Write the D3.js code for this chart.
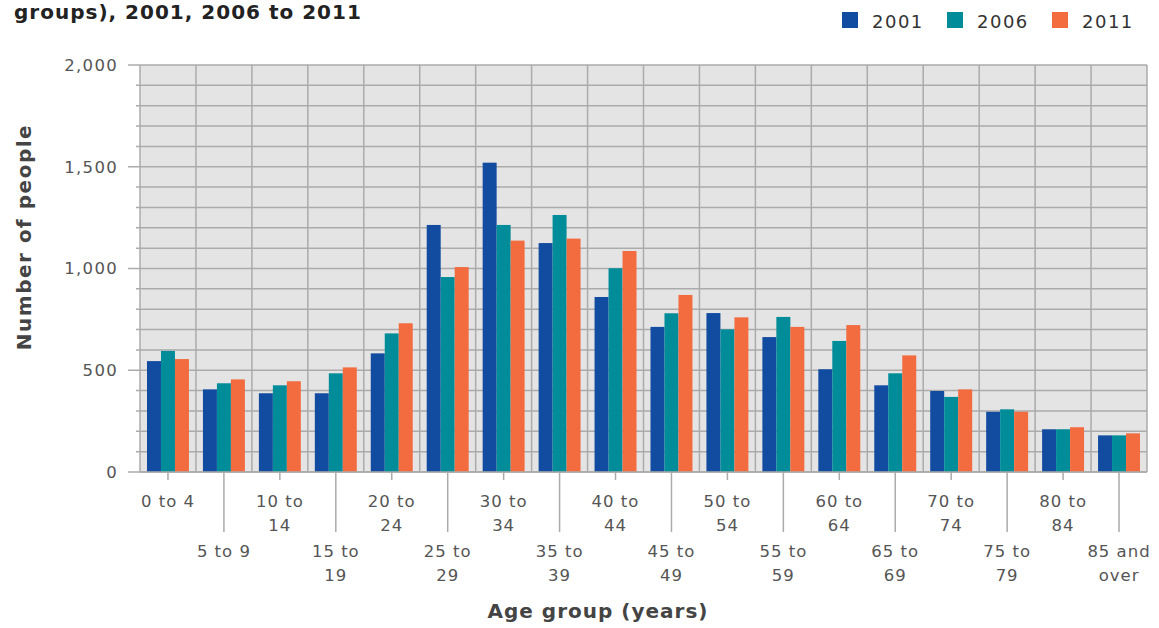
<!DOCTYPE html>
<html><head><meta charset="utf-8">
<script src="https://cdn.jsdelivr.net/npm/d3@7"></script>
<style>body{margin:0;background:#fff;}svg{display:block;font-family:"DejaVu Sans",Verdana,sans-serif;}</style>
</head><body>
<svg id="c" width="1159" height="628"></svg>
<script>
const categories = ["0 to 4","5 to 9","10 to 14","15 to 19","20 to 24","25 to 29","30 to 34","35 to 39","40 to 44","45 to 49","50 to 54","55 to 59","60 to 64","65 to 69","70 to 74","75 to 79","80 to 84","85 and over"];
const categoryLines = [["0 to 4"],["5 to 9"],["10 to","14"],["15 to","19"],["20 to","24"],["25 to","29"],["30 to","34"],["35 to","39"],["40 to","44"],["45 to","49"],["50 to","54"],["55 to","59"],["60 to","64"],["65 to","69"],["70 to","74"],["75 to","79"],["80 to","84"],["85 and","over"]];
const seriesNames = ["2001","2006","2011"];
const values2001 = [545,406,387,387,583,1214,1520,1125,860,713,781,663,505,426,398,296,210,180];
const values2006 = [595,436,426,485,681,958,1214,1263,1001,780,701,762,644,485,369,308,210,180];
const values2011 = [555,455,446,514,731,1007,1137,1147,1086,870,760,713,722,573,406,296,220,190];
const yTicks = [0,500,1000,1500,2000];
const colors = ["#124ca0","#008c99","#f26c40"];
const titleText = "groups), 2001, 2006 to 2011";
const xTitle = "Age group (years)";
const yTitle = "Number of people";

const series = [values2001, values2006, values2011];
const svg = d3.select("#c");
const L = 140, R = 1147, T = 65, B = 472;

const x = d3.scaleBand().domain(categories).range([L, R]).paddingInner(0).paddingOuter(0);
const xs = d3.scaleBand().domain(seriesNames).range([0, x.bandwidth()]).paddingInner(0).paddingOuter(0.5);
const y = d3.scaleLinear().domain([0, 2000]).range([B, T]);

// plot background
svg.append("rect").attr("x", L).attr("y", T).attr("width", R - L).attr("height", B - T).attr("fill", "#e4e4e4");

// horizontal gridlines every 100
const grid = d3.range(0, 2001, 100);
svg.append("g").selectAll("line").data(grid).join("line")
  .attr("x1", d => yTicks.includes(d) ? L - 12 : L - 4).attr("x2", R)
  .attr("y1", d => y(d)).attr("y2", d => y(d))
  .attr("stroke", "#ababab").attr("stroke-width", 1.5);

// vertical gridlines at category boundaries
svg.append("g").selectAll("line").data(categories).join("line")
  .attr("x1", d => x(d)).attr("x2", d => x(d))
  .attr("y1", T).attr("y2", B)
  .attr("stroke", "#ababab").attr("stroke-width", 1.5);
svg.append("line").attr("x1", R).attr("x2", R).attr("y1", T).attr("y2", B).attr("stroke", "#ababab").attr("stroke-width", 1.5);

// bars
const gBars = svg.append("g");
series.forEach((vals, si) => {
  gBars.append("g").selectAll("rect").data(vals).join("rect")
    .attr("x", (d, i) => x(categories[i]) + xs(seriesNames[si]))
    .attr("width", xs.bandwidth())
    .attr("y", d => y(d))
    .attr("height", d => y(0) - y(d))
    .attr("fill", colors[si]);
});

// x axis line
svg.append("line").attr("x1", L).attr("x2", R).attr("y1", B).attr("y2", B).attr("stroke", "#ababab").attr("stroke-width", 1.5);

// y axis labels
svg.append("g").selectAll("text").data(yTicks).join("text")
  .attr("x", 118).attr("y", d => y(d)).attr("dy", "0.35em")
  .attr("text-anchor", "end").attr("font-size", 16.5).attr("letter-spacing", 1.3).attr("fill", "#555")
  .text(d => d3.format(",")(d));

// x ticks and labels
const gx = svg.append("g");
categories.forEach((c, i) => {
  const cx = x(c) + x.bandwidth() / 2;
  const odd = i % 2 === 1;
  gx.append("line").attr("x1", cx).attr("x2", cx).attr("y1", B).attr("y2", odd ? 532 : 480)
    .attr("stroke", "#ababab").attr("stroke-width", 1.5);
  const lines = categoryLines[i];
  const y0 = odd ? 557 : 507;
  lines.forEach((ln, j) => {
    gx.append("text").attr("x", cx).attr("y", y0 + j * 24)
      .attr("text-anchor", "middle").attr("font-size", 16.5).attr("letter-spacing", 1).attr("fill", "#555").text(ln);
  });
});

// axis titles
svg.append("text").attr("x", 598).attr("y", 618).attr("text-anchor", "middle")
  .attr("font-size", 20).attr("letter-spacing", 1).attr("font-weight", "bold").attr("fill", "#444").text(xTitle);
svg.append("text").attr("transform", "translate(31,237) rotate(-90)").attr("text-anchor", "middle")
  .attr("font-size", 20).attr("letter-spacing", 1.5).attr("font-weight", "bold").attr("fill", "#444").text(yTitle);

// title
svg.append("text").attr("x", 14).attr("y", 19).attr("font-size", 20).attr("letter-spacing", 1).attr("font-weight", "bold").attr("fill", "#222").text(titleText);

// legend
const legX = [842, 947, 1052];
seriesNames.forEach((s, i) => {
  svg.append("rect").attr("x", legX[i]).attr("y", 12).attr("width", 16).attr("height", 16).attr("fill", colors[i]);
  svg.append("text").attr("x", legX[i] + 30).attr("y", 28).attr("font-size", 18).attr("letter-spacing", 1.5).attr("fill", "#333").text(s);
});
</script>
</body></html>
